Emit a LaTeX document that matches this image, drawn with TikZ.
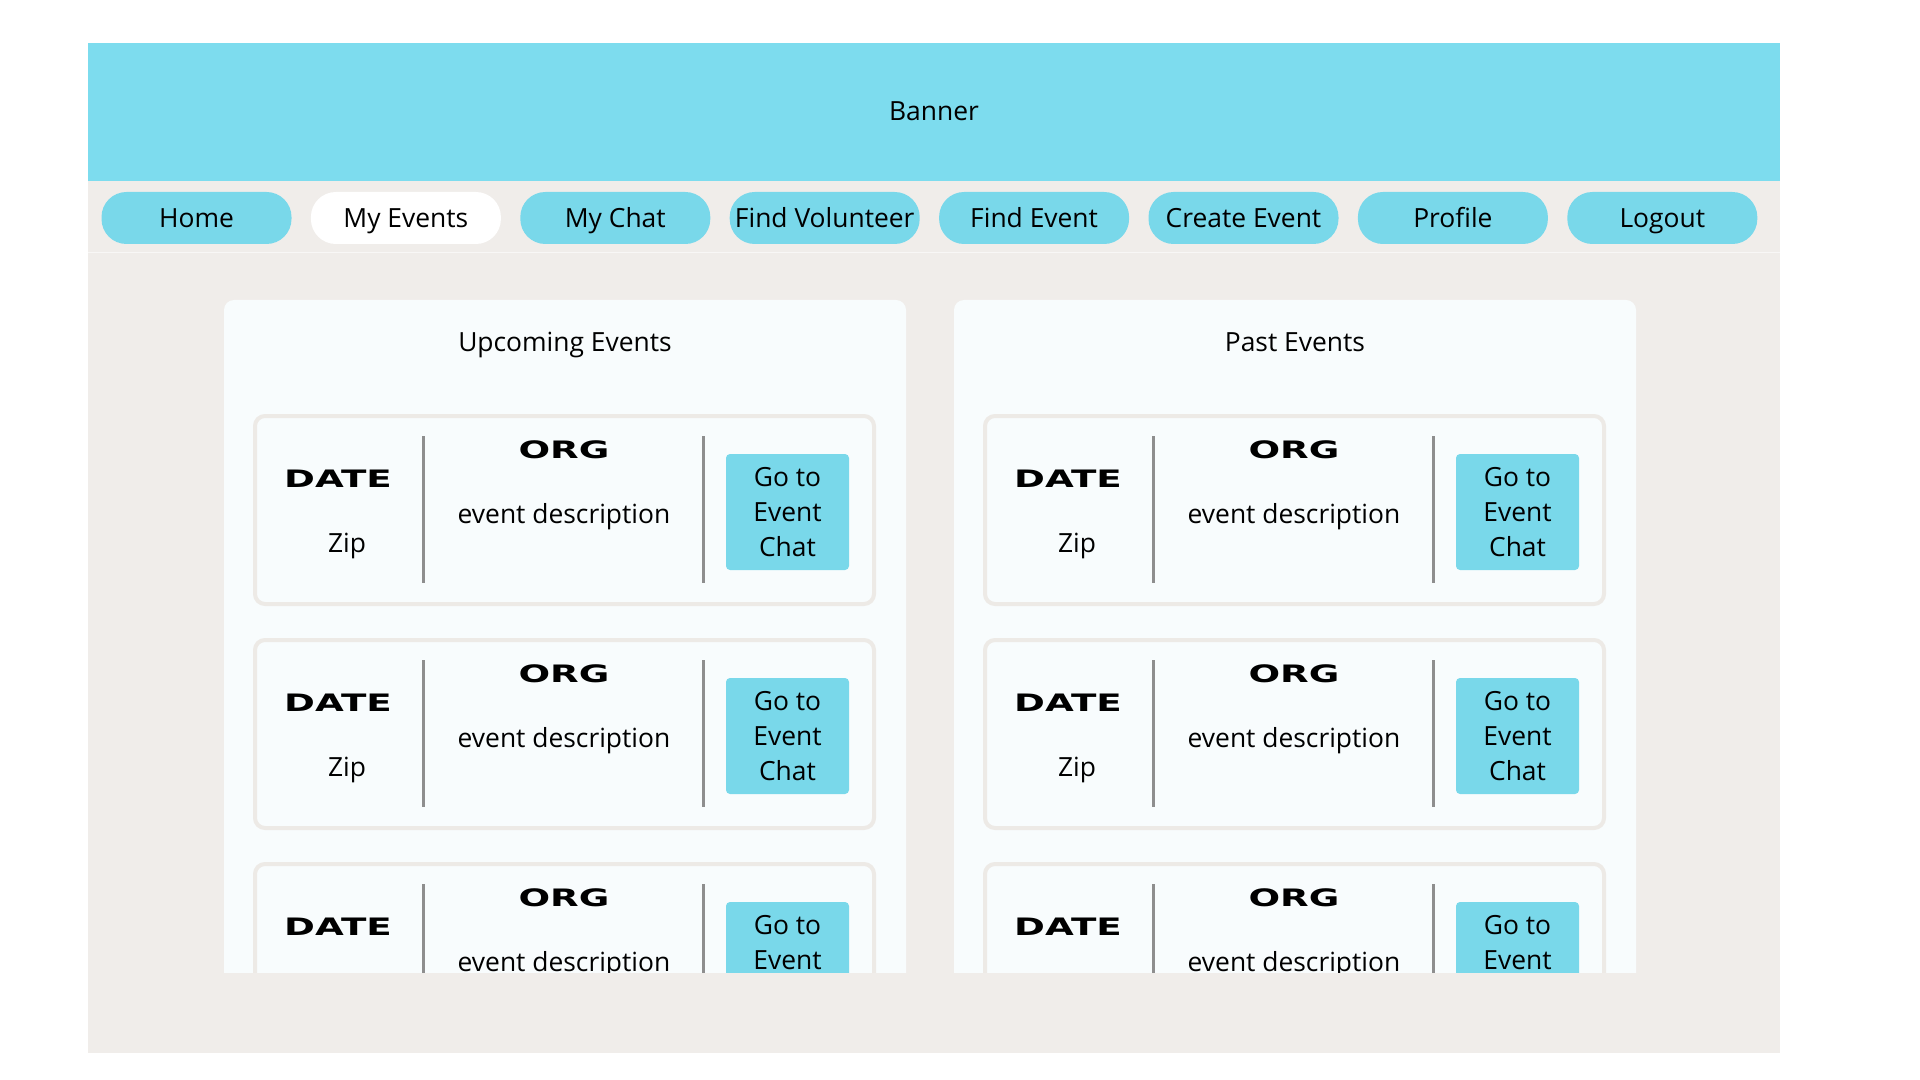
\documentclass[tikz,border=0pt]{standalone}
\usepackage{fontspec}
\setmainfont{Open Sans}
\newfontfamily\headfont[FakeStretch=1.55]{DejaVu Sans}
\definecolor{bannercyan}{HTML}{7DDCEE}
\definecolor{btncyan}{HTML}{79D8EA}
\definecolor{pagegray}{HTML}{F0EDEA}
\definecolor{panelwhite}{HTML}{F8FCFD}
\definecolor{cardline}{HTML}{EDEAE6}
\definecolor{sepgray}{HTML}{8E8E8E}
\tikzset{
  txt/.style={font=\fontsize{13.2}{17.5}\selectfont, inner sep=0pt, text height=0.98em, text depth=0pt},
  head/.style={font=\headfont\bfseries\fontsize{12}{14}\selectfont, inner sep=0pt},
  navbtn/.style={txt, rounded corners=12.5pt, minimum width=95pt, minimum height=26pt},
  gobtn/.style={font=\fontsize{13.2}{17.5}\selectfont, inner sep=0pt, fill=btncyan, rounded corners=2pt, align=center, minimum width=61.5pt, minimum height=58pt},
  card/.style={draw=cardline, line width=2pt, fill=panelwhite, rounded corners=5pt},
  sepline/.style={sepgray, line width=1.5pt},
}
\begin{document}
\begin{tikzpicture}[x=0.5pt,y=-0.5pt]
	\useasboundingbox[fill=white] (0,0) rectangle (1920,1080);
	\fill[pagegray] (88,181) rectangle (1780,1053);
	\fill[bannercyan] (88,43) rectangle (1780,181);
	\draw[white!55!pagegray, line width=0.5pt] (88,253) -- (1780,253);
	\node[txt] (banner) at (934,111) {Banner};
	
	% navigation bar
	\def\navlist {0/Home/btncyan, 1/My Events/white, 2/My Chat/btncyan, 3/Find Volunteer/btncyan, 4/Find Event/btncyan, 5/Create Event/btncyan, 6/Profile/btncyan, 7/Logout/btncyan}
	\foreach \i/\name/\col in \navlist
	{	\node[navbtn, fill=\col] (nav\i) at (196.5+209.4*\i,218) {\name};
	}
	
	% panels with event cards, cut off at the bottom
	\begin{scope}
		\clip (0,0) rectangle (1920,972);
		\foreach \p/\px/\title in {up/224/Upcoming Events, past/954/Past Events}
		{	\fill[panelwhite, rounded corners=5pt] (\px,300) rectangle ++(682,720);
			\node[txt] (\p-title) at (\px+341,342) {\title};
			\foreach \r/\cy in {1/416, 2/640, 3/864}
			{	\begin{scope}[shift={(\px+31,\cy)}]
					\draw[card] (0,0) rectangle (619,188);
					\node[head] (\p\r-date) at (83,63)  {DATE};
					\node[txt]  (\p\r-zip)  at (92,127) {Zip};
					\draw[sepline] (168,20) -- (168,167);
					\node[head] (\p\r-org)  at (309,34) {ORG};
					\node[txt]  (\p\r-desc) at (309,98) {event description};
					\draw[sepline] (448,20) -- (448,167);
					\node[gobtn] (\p\r-go)  at (532.5,96) {Go to\\Event\\Chat};
				\end{scope}
			}
		}
	\end{scope}
\end{tikzpicture}
\end{document}
